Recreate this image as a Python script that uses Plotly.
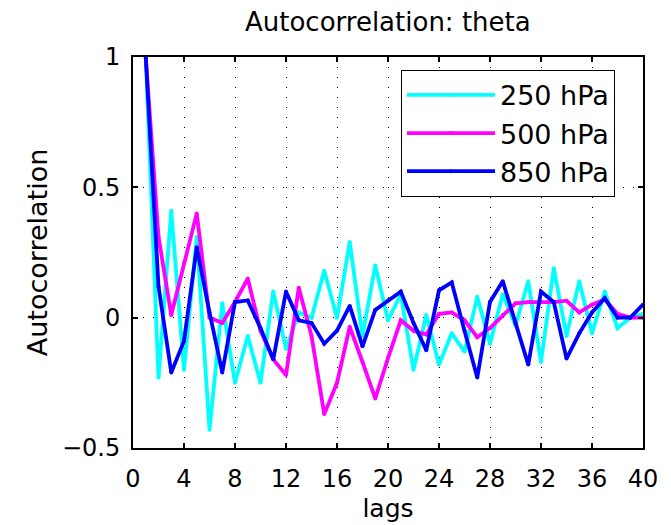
import plotly.graph_objects as go

# Lags and sample autocorrelation of potential temperature at three pressure levels
lags = list(range(1, 41))

acf_250 = [1.0, -0.23, 0.41, -0.20, 0.31, -0.43, 0.055, -0.25, -0.07, -0.25,
           0.10, -0.12, 0.02, 0.0, 0.18, 0.0, 0.29, -0.07, 0.20, -0.01,
           0.09, -0.20, 0.01, -0.18, -0.06, -0.13, 0.08, -0.10, 0.09, -0.03,
           0.14, -0.17, 0.19, -0.07, 0.14, -0.06, 0.10, -0.04, 0.0, 0.015]

acf_500 = [1.0, 0.31, 0.01, 0.21, 0.40, 0.0, -0.02, 0.06, 0.15, -0.05,
           -0.16, -0.22, 0.115, -0.07, -0.37, -0.25, -0.035, -0.17, -0.31, -0.155,
           -0.01, -0.05, -0.065, 0.015, 0.02, -0.01, -0.075, -0.04, 0.01, 0.055,
           0.06, 0.06, 0.06, 0.065, 0.02, 0.05, 0.07, 0.015, 0.0, 0.0]

acf_850 = [1.0, 0.12, -0.21, -0.09, 0.27, 0.02, -0.21, 0.06, 0.066, -0.04,
           -0.16, 0.10, -0.01, -0.02, -0.10, -0.05, 0.045, -0.11, 0.03, 0.066,
           0.10, -0.02, -0.125, 0.105, 0.135, -0.05, -0.23, 0.06, 0.14, -0.02,
           -0.18, 0.10, 0.06, -0.157, -0.06, 0.02, 0.075, 0.0, 0.0, 0.05]

series_names = ["250 hPa", "500 hPa", "850 hPa"]
series_values = [acf_250, acf_500, acf_850]
series_colors = ["#00FFFF", "#FF00FF", "#0000FF"]

x_ticks = [0, 4, 8, 12, 16, 20, 24, 28, 32, 36, 40]
y_ticks = [-0.5, 0, 0.5, 1]

FONT = "DejaVu Sans, Verdana, sans-serif"

fig = go.Figure()
for name, vals, col in zip(series_names, series_values, series_colors):
    fig.add_trace(go.Scatter(
        x=lags, y=vals, name=name, legendgroup=name,
        mode="lines+markers",
        line=dict(color=col, width=3.8),
        marker=dict(color=col, size=4),
    ))

axis_common = dict(
    showline=True, linecolor="black", linewidth=2, mirror="ticks",
    ticks="inside", ticklen=5, tickwidth=1.5, tickcolor="black",
    showgrid=True, gridcolor="black", gridwidth=1, griddash="1px,9px",
    zeroline=False, automargin=False,
    tickfont=dict(family=FONT, size=24, color="black"),
)

fig.update_xaxes(
    range=[0, 40], tickmode="array", tickvals=x_ticks,
    title=dict(text="lags", font=dict(family=FONT, size=25, color="black"), standoff=8),
    ticklabelstandoff=8,
    **axis_common,
)
fig.update_yaxes(
    range=[-0.5, 1], tickmode="array", tickvals=y_ticks,
    ticktext=["\u22120.5", "0", "0.5", "1"],
    title=dict(text="Autocorrelation", font=dict(family=FONT, size=27, color="black"), standoff=6),
    ticklabelstandoff=6,
    **axis_common,
)

fig.update_layout(
    width=671, height=525,
    margin=dict(l=133, r=28, t=57, b=77),
    paper_bgcolor="white", plot_bgcolor="white",
    title=dict(text="Autocorrelation: theta", x=0.578, xanchor="center",
               y=0.958, yanchor="middle",
               font=dict(family=FONT, size=26, color="black")),
    legend=dict(
        x=0.5255, y=0.967, xanchor="left", yanchor="top",
        bgcolor="white", bordercolor="black", borderwidth=1,
        font=dict(family=FONT, size=27, color="black"),
        itemwidth=88, tracegroupgap=0,
    ),
    showlegend=True,
)

fig.write_html("out.html")
